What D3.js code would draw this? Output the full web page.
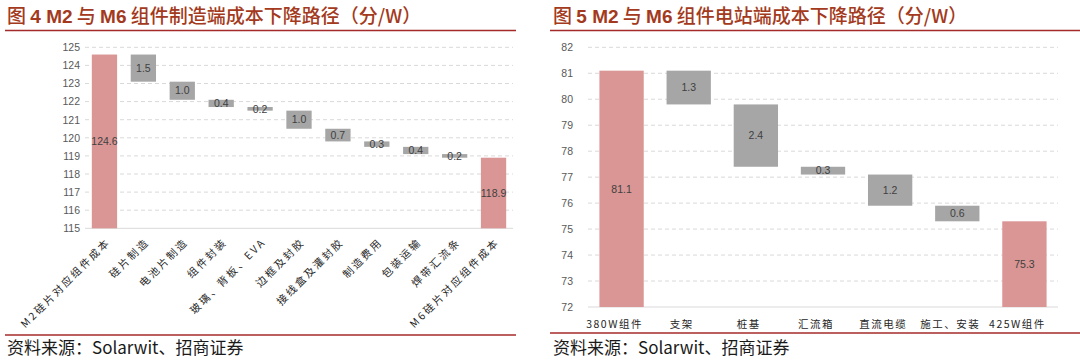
<!DOCTYPE html>
<html><head><meta charset="utf-8">
<script src="https://cdn.jsdelivr.net/npm/d3@7/dist/d3.min.js"></script>
<style>
html,body{margin:0;padding:0;background:#fff;}
svg{display:block;}
</style></head>
<body>
<svg id="c" width="1080" height="362"></svg>
<script>
// ---- Data ----
const leftTitle = ["图 ", "4 M2", " 与 ", "M6", " 组件制造端成本下降路径（分/W）"];
const leftCategories = ["M2硅片对应组件成本","硅片制造","电池片制造","组件封装","玻璃、背板、EVA","边框及封胶","接线盒及灌封胶","制造费用","包装运输","焊带汇流条","M6硅片对应组件成本"];
const leftValues = [124.6, 1.5, 1.0, 0.4, 0.2, 1.0, 0.7, 0.3, 0.4, 0.2, 118.9];
const leftTicks = [115,116,117,118,119,120,121,122,123,124,125];

const rightTitle = ["图 ", "5 M2", " 与 ", "M6", " 组件电站端成本下降路径（分/W）"];
const rightCategories = ["380W组件","支架","桩基","汇流箱","直流电缆","施工、安装","425W组件"];
const rightValues = [81.1, 1.3, 2.4, 0.3, 1.2, 0.6, 75.3];
const rightTicks = [72,73,74,75,76,77,78,79,80,81,82];

const sourceText = "资料来源：Solarwit、招商证券";

// ---- Style ----
const cTotal = "#D99694", cStep = "#A6A6A6", cTitle = "#A33A20", cRule = "#A52A2A";
const cjk = "'Noto Sans CJK SC', 'Liberation Sans', sans-serif";
const svg = d3.select("#c");

function waterfall(values){
  let run = values[0];
  return values.map((v,i)=>{
    if(i===0) return {total:true, top:v, v};
    if(i===values.length-1) return {total:true, top:v, v};
    const d = {total:false, top:run, bottom:run - v, v};
    run -= v; return d;
  });
}

function drawPanel(o){
  const g = svg.append("g");
  // title
  const t = g.append("text").attr("x", o.titleX).attr("y", 23)
    .attr("fill", cTitle).attr("font-size", 19).attr("font-family", cjk);
  o.title.forEach((s,i)=>{
    t.append("tspan").text(s)
     .attr("font-family", (i%2===1) ? "'Liberation Sans', Arial, sans-serif" : cjk)
     .attr("font-weight", (i%2===1) ? "bold" : "500");
  });
  g.append("line").attr("x1", o.ruleX1).attr("x2", o.ruleX2).attr("y1", 30.5).attr("y2", 30.5)
    .attr("stroke", cRule).attr("stroke-width", 1.5);
  g.append("line").attr("x1", o.ruleX1).attr("x2", o.ruleX2).attr("y1", o.footY).attr("y2", o.footY)
    .attr("stroke", cRule).attr("stroke-width", 1.5);
  g.append("text").attr("x", o.titleX).attr("y", 354).text(sourceText)
    .attr("font-size", 17).attr("fill", "#1a1a1a").attr("font-family", cjk);

  const y = d3.scaleLinear().domain(o.domain).range([o.y0, o.y1]);
  const x = d3.scaleBand().domain(o.cats).range([o.x0, o.x1]).paddingInner(o.pad).paddingOuter(o.pad/2);

  // grid
  g.append("g").selectAll("line").data(o.ticks.slice(1)).join("line")
    .attr("x1", o.x0).attr("x2", o.x1).attr("y1", d=>y(d)).attr("y2", d=>y(d))
    .attr("stroke", "#D9D9D9").attr("stroke-width", 1).attr("stroke-dasharray", "4,3");
  g.append("line").attr("x1", o.x0).attr("x2", o.x1).attr("y1", y(o.domain[0])).attr("y2", y(o.domain[0]))
    .attr("stroke", "#D9D9D9").attr("stroke-width", 1);

  // y axis
  const ya = g.append("g").attr("transform", `translate(${o.yLabelX},0)`)
    .call(d3.axisLeft(y).tickValues(o.ticks).tickSize(0).tickPadding(0).tickFormat(d3.format("d")));
  ya.select(".domain").remove();
  ya.selectAll("text").attr("font-size", 10.5).attr("fill", "#595959").attr("font-family", "'Liberation Sans', Arial, sans-serif");

  const wf = waterfall(o.values);
  const base = o.domain[0];
  const bars = g.append("g");
  wf.forEach((d,i)=>{
    const top = y(d.top), bot = d.total ? y(base) : y(d.bottom);
    bars.append("rect").attr("x", x(o.cats[i])).attr("width", x.bandwidth())
      .attr("y", top).attr("height", bot - top)
      .attr("fill", d.total ? cTotal : cStep);
    bars.append("text").attr("x", x(o.cats[i]) + x.bandwidth()/2).attr("y", (top+bot)/2)
      .attr("dy", "0.35em").attr("text-anchor", "middle")
      .attr("font-size", 10.5).attr("fill", "#404040").attr("font-family", "'Liberation Sans', Arial, sans-serif")
      .text(d3.format(".1f")(d.v));
  });

  // x labels
  const xl = g.append("g");
  o.cats.forEach(c=>{
    const cx = x(c) + x.bandwidth()/2;
    if(o.rotate){
      xl.append("text").attr("transform", `translate(${cx+4},${o.labelY}) rotate(-45)`)
        .attr("text-anchor", "end").attr("dy", "0.35em")
        .attr("font-size", 10.5).attr("letter-spacing", 2.3).attr("fill", "#262626").attr("font-family", cjk).text(c);
    } else {
      xl.append("text").attr("x", cx + o.labelDx).attr("y", o.labelY).attr("text-anchor", "middle")
        .attr("dy", "0.35em").attr("font-size", 10.5).attr("letter-spacing", 1.5).attr("fill", "#262626")
        .attr("font-family", cjk).text(c);
    }
  });
}

drawPanel({title:leftTitle, titleX:7, ruleX1:5, ruleX2:516, footY:335,
  cats:leftCategories, values:leftValues, ticks:leftTicks, domain:[115,125],
  y0:228.3, y1:47.3, x0:85, x1:513, pad:0.35, yLabelX:80, rotate:true, labelY:240});

drawPanel({title:rightTitle, titleX:553, ruleX1:550, ruleX2:1080, footY:333,
  cats:rightCategories, values:rightValues, ticks:rightTicks, domain:[72,82],
  y0:307, y1:47.3, x0:588, x1:1058, pad:0.34, yLabelX:573, rotate:false, labelY:324, labelDx:-7});
</script>
</body></html>
